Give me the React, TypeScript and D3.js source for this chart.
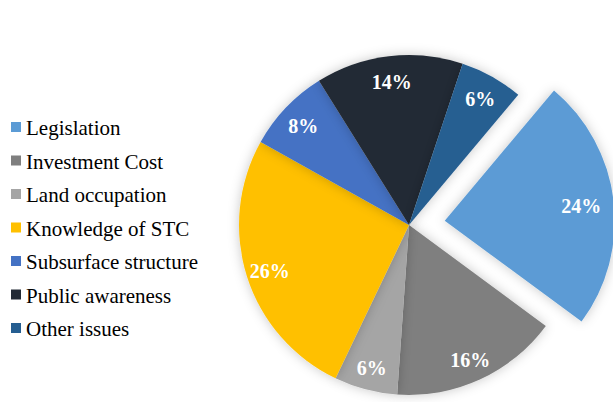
import { useMemo } from 'react';
import * as d3 from 'd3';

// Slice data, clockwise from the exploded slice
const categories = [
  'Legislation',
  'Investment Cost',
  'Land occupation',
  'Knowledge of STC',
  'Subsurface structure',
  'Public awareness',
  'Other issues',
];
const shares = [24, 16, 6, 26, 8, 14, 6];
const sliceColors = ['#5B9BD5', '#7F7F7F', '#A5A5A5', '#FFC000', '#4472C4', '#222A35', '#255E91'];
const explodedIndex = 0;

interface Slice {
  name: string;
  value: number;
  color: string;
}

const WIDTH = 613;
const HEIGHT = 402;

export default function App() {
  const slices: Slice[] = useMemo(
    () => categories.map((name, i) => ({ name, value: shares[i], color: sliceColors[i] })),
    []
  );

  const cx = 409;
  const cy = 225;
  const radius = 170;
  const explode = 36;
  const startAngle = (40 * Math.PI) / 180;

  const pie = d3
    .pie<Slice>()
    .value((d) => d.value)
    .sort(null)
    .startAngle(startAngle)
    .endAngle(startAngle + 2 * Math.PI);
  const arcs = pie(slices);

  const arc = d3.arc<d3.PieArcDatum<Slice>>().innerRadius(0).outerRadius(radius);
  const labelArc = d3
    .arc<d3.PieArcDatum<Slice>>()
    .innerRadius(radius * 0.86)
    .outerRadius(radius * 0.86);

  const legendY = d3.scalePoint<string>().domain(categories).range([127, 328]);

  const offsetOf = (a: d3.PieArcDatum<Slice>, i: number) => {
    if (i !== explodedIndex) return [0, 0];
    const mid = (a.startAngle + a.endAngle) / 2;
    return [Math.sin(mid) * explode, -Math.cos(mid) * explode];
  };

  return (
    <svg
      width={WIDTH}
      height={HEIGHT}
      style={{ position: 'absolute', left: 0, top: 0, background: '#fff' }}
      fontFamily="'Liberation Serif', 'Times New Roman', serif"
    >
      <defs>
        <filter id="pie-shadow" x="-20%" y="-20%" width="140%" height="140%">
          <feDropShadow dx="0" dy="0" stdDeviation="6" floodColor="#000" floodOpacity="0.22" />
        </filter>
      </defs>

      <g transform={`translate(${cx},${cy})`}>
        {arcs.map((a, i) => {
          const [ox, oy] = offsetOf(a, i);
          return (
            <path
              key={a.data.name}
              d={arc(a) || ''}
              transform={`translate(${ox},${oy})`}
              fill={a.data.color}
              filter="url(#pie-shadow)"
            />
          );
        })}
        {arcs.map((a, i) => {
          const [ox, oy] = offsetOf(a, i);
          const [lx, ly] = labelArc.centroid(a);
          const k = i === explodedIndex ? 0.94 : 1;
          return (
            <text
              key={`lbl-${a.data.name}`}
              x={lx * k + ox}
              y={ly * k + oy + 2}
              textAnchor="middle"
              dominantBaseline="central"
              fill="#fff"
              fontWeight="bold"
              fontSize={20}
            >
              {`${a.data.value}%`}
            </text>
          );
        })}
      </g>

      <g>
        {slices.map((s) => (
          <g key={`lg-${s.name}`} transform={`translate(0,${legendY(s.name)})`}>
            <rect x={11} y={-5} width={10} height={10} fill={s.color} />
            <text x={26} y={1} dominantBaseline="central" fontSize={21} fill="#000">
              {s.name}
            </text>
          </g>
        ))}
      </g>
    </svg>
  );
}
